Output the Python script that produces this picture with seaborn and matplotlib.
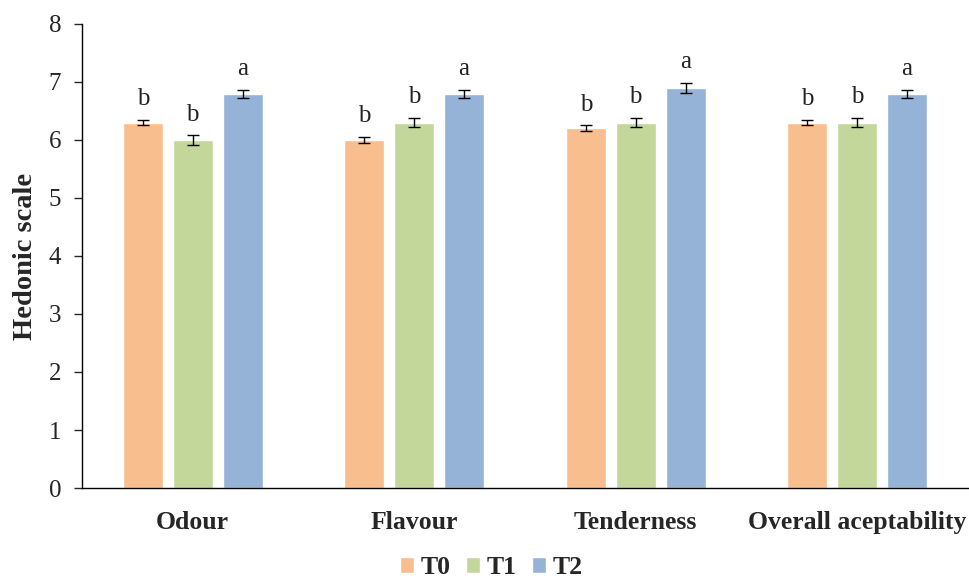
import matplotlib
matplotlib.use("Agg")
import matplotlib.pyplot as plt
import seaborn as sns
import pandas as pd
import numpy as np

categories = ["Odour", "Flavour", "Tenderness", "Overall aceptability"]
treatments = ["T0", "T1", "T2"]
t0_values = [6.3, 6.0, 6.2, 6.3]
t1_values = [6.0, 6.3, 6.3, 6.3]
t2_values = [6.8, 6.8, 6.9, 6.8]
t0_err = [0.05, 0.05, 0.05, 0.05]
t1_err = [0.08, 0.08, 0.08, 0.08]
t2_err = [0.07, 0.07, 0.09, 0.07]
t0_letters = ["b", "b", "b", "b"]
t1_letters = ["b", "b", "b", "b"]
t2_letters = ["a", "a", "a", "a"]
colors = ["#F9BE8E", "#C4D79B", "#95B3D7"]

rows = []
for tr, vals, errs, lets in zip(treatments,
                                [t0_values, t1_values, t2_values],
                                [t0_err, t1_err, t2_err],
                                [t0_letters, t1_letters, t2_letters]):
    for c, v, e, l in zip(categories, vals, errs, lets):
        rows.append(dict(category=c, treatment=tr, value=v, err=e, letter=l))
df = pd.DataFrame(rows)

sns.set_style("white")
plt.rcParams['font.family'] = ['Liberation Serif', 'DejaVu Serif']

fig = plt.figure(figsize=(9.69, 5.82), dpi=100)
ax = fig.add_axes([0.0846, 0.1615, 0.9144, 0.7973])

sns.barplot(data=df, x="category", y="value", hue="treatment", order=categories,
            hue_order=treatments, palette=colors, width=0.675, gap=0.2,
            errorbar=None, saturation=1, ax=ax)

# error bars and letters from bar patches
for cont, tr in zip(ax.containers, treatments):
    sub = df[df.treatment == tr].set_index("category").loc[categories]
    for patch, (_, r) in zip(cont.patches, sub.iterrows()):
        xc = patch.get_x() + patch.get_width() / 2
        ax.errorbar(xc, r.value, yerr=r.err, color="black", capsize=4.5,
                    elinewidth=1, capthick=1, fmt="none")
        ax.annotate(r.letter, (xc, r.value + r.err), xytext=(0, 7),
                    textcoords="offset points", ha="center", va="bottom",
                    fontsize=18, color="#222222")

ax.set_ylim(0, 8)
ax.set_xlim(-0.5, 3.5)
ax.set_yticks(range(0, 9))
ax.set_ylabel("Hedonic scale", fontsize=20.5, fontweight="bold", labelpad=8)
ax.set_xlabel("")
ax.tick_params(axis="y", which="both", left=True, direction="out", length=6,
               width=1, labelsize=18, pad=9)
ax.tick_params(axis="x", bottom=False, labelsize=18.5, pad=13)
for lab in ax.get_xticklabels():
    lab.set_fontweight("bold")
for s in ["top", "right"]:
    ax.spines[s].set_visible(False)
for s in ["left", "bottom"]:
    ax.spines[s].set_color("black")
    ax.spines[s].set_linewidth(1)

leg = ax.legend(loc="center", bbox_to_anchor=(0.462, -0.172), ncol=3,
                frameon=False, prop={"weight": "bold", "size": 18.5},
                handlelength=0.55, handleheight=0.55, handletextpad=0.25,
                columnspacing=0.6, borderaxespad=0, borderpad=0)

fig.savefig("out.png", dpi=100)
